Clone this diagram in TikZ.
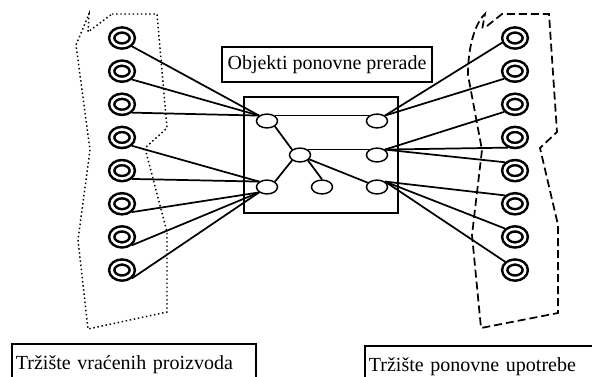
\documentclass[tikz,border=0pt]{standalone}
\usepackage{fontspec}
\setmainfont{Liberation Serif}
\usetikzlibrary{shapes.geometric}
\tikzset{>=latex}
\tikzset{
  ring/.style={ellipse,draw,double,line width=1.9pt,double distance=1.9pt,
    minimum width=15.4pt,minimum height=12pt,inner sep=0pt,outer sep=2.85pt},
  cell/.style={ellipse,draw,line width=1.1pt,minimum width=15.8pt,
    minimum height=10.4pt,inner sep=0pt},
  link/.style={line width=1.3pt},
  tag/.style={draw,line width=1.4pt,inner sep=0pt,
    font=\fontsize{15}{18}\selectfont},
  market/.style={tag,anchor=north west,align=left,inner xsep=3pt,
    text height=19pt,text depth=15pt}
}

\begin{document}
\begin{tikzpicture}[x=0.75pt,y=-0.75pt]
      \useasboundingbox (0,0) rectangle (592,376);
      \clip (0,0) rectangle (592,376);

      \draw[line width=1.1pt,dotted] (112,14) -- (157,14) -- (167,128) --
      (145,148) -- (167,232) -- (167,312) -- (88,329) -- (78,240) --
      (90,150) -- (76,45) -- (89,14) -- (88,32) -- cycle;
      \draw[line width=1.3pt,dash pattern=on 6pt off 3pt] (487,26) --
      (502,14) -- (549,14) -- (557,132) -- (540,148) -- (558,225) --
      (558,313) -- (481,328) -- (472,235) -- (482,150) -- (468,75)
      .. controls (468,40) and (478,20) .. (485,14) -- (482,30);

      \foreach \i in {1,...,8} {
        \pgfmathsetmacro{\y}{38+33.15*(\i-1)}
        \node[ring] (L\i) at (122,\y) {};
        \node[ring] (R\i) at (515,\y) {};
      }

      \node[tag,minimum width=157.5pt,minimum height=26.25pt] (naslov)
      at (327,64.5) {Objekti ponovne prerade};
      \node[draw,line width=1.4pt,minimum width=115.5pt,minimum height=87pt]
      (pogon) at (321,155) {};

      \node[cell] (ul1) at (267,121) {};
      \node[cell] (ul2) at (267,187) {};
      \node[cell] (cen) at (300,155) {};
      \node[cell] (mid) at (322,187) {};
      \node[cell] (iz1) at (377,121) {};
      \node[cell] (iz2) at (377,155) {};
      \node[cell] (iz3) at (377,187) {};

      \draw[link] (ul1.north east) -- (iz1.north west);
      \draw[link] (cen.north east) -- (iz2.north west);
      \draw[link] (ul1.south east) -- (cen.north west);
      \draw[link] (cen.south west) -- (ul2.north east);
      \draw[link] (cen.south east) -- (mid.north);
      \draw[link] (cen.-25) -- (iz3.155);

      \foreach \i in {1,2,3} \draw[link] (L\i.-40) -- (ul1.north west);
      \foreach \i in {4,5} \draw[link] (L\i.-40) -- (ul2.north west);
      \foreach \i in {6,7,8} \draw[link] (L\i.-40) -- (ul2.south west);
      \draw[link] (iz1.north east) -- (R1.200);
      \draw[link] (iz1.north east) -- (R2.215);
      \draw[link] (iz2.north east) -- (R3.215);
      \draw[link] (iz2.north east) -- (R4.235);
      \draw[link] (iz2.north east) -- (R5.140);
      \foreach \i in {6,7,8} \draw[link] (iz3.north east) -- (R\i.140);

      \node[market,text width=177pt] (vraceni) at (11,343)
      {Tržište vraćenih proizvoda};
      \node[market,text width=200pt] (upotreba) at (364,345)
      {Tržište ponovne upotrebe};
\end{tikzpicture}
\end{document}
